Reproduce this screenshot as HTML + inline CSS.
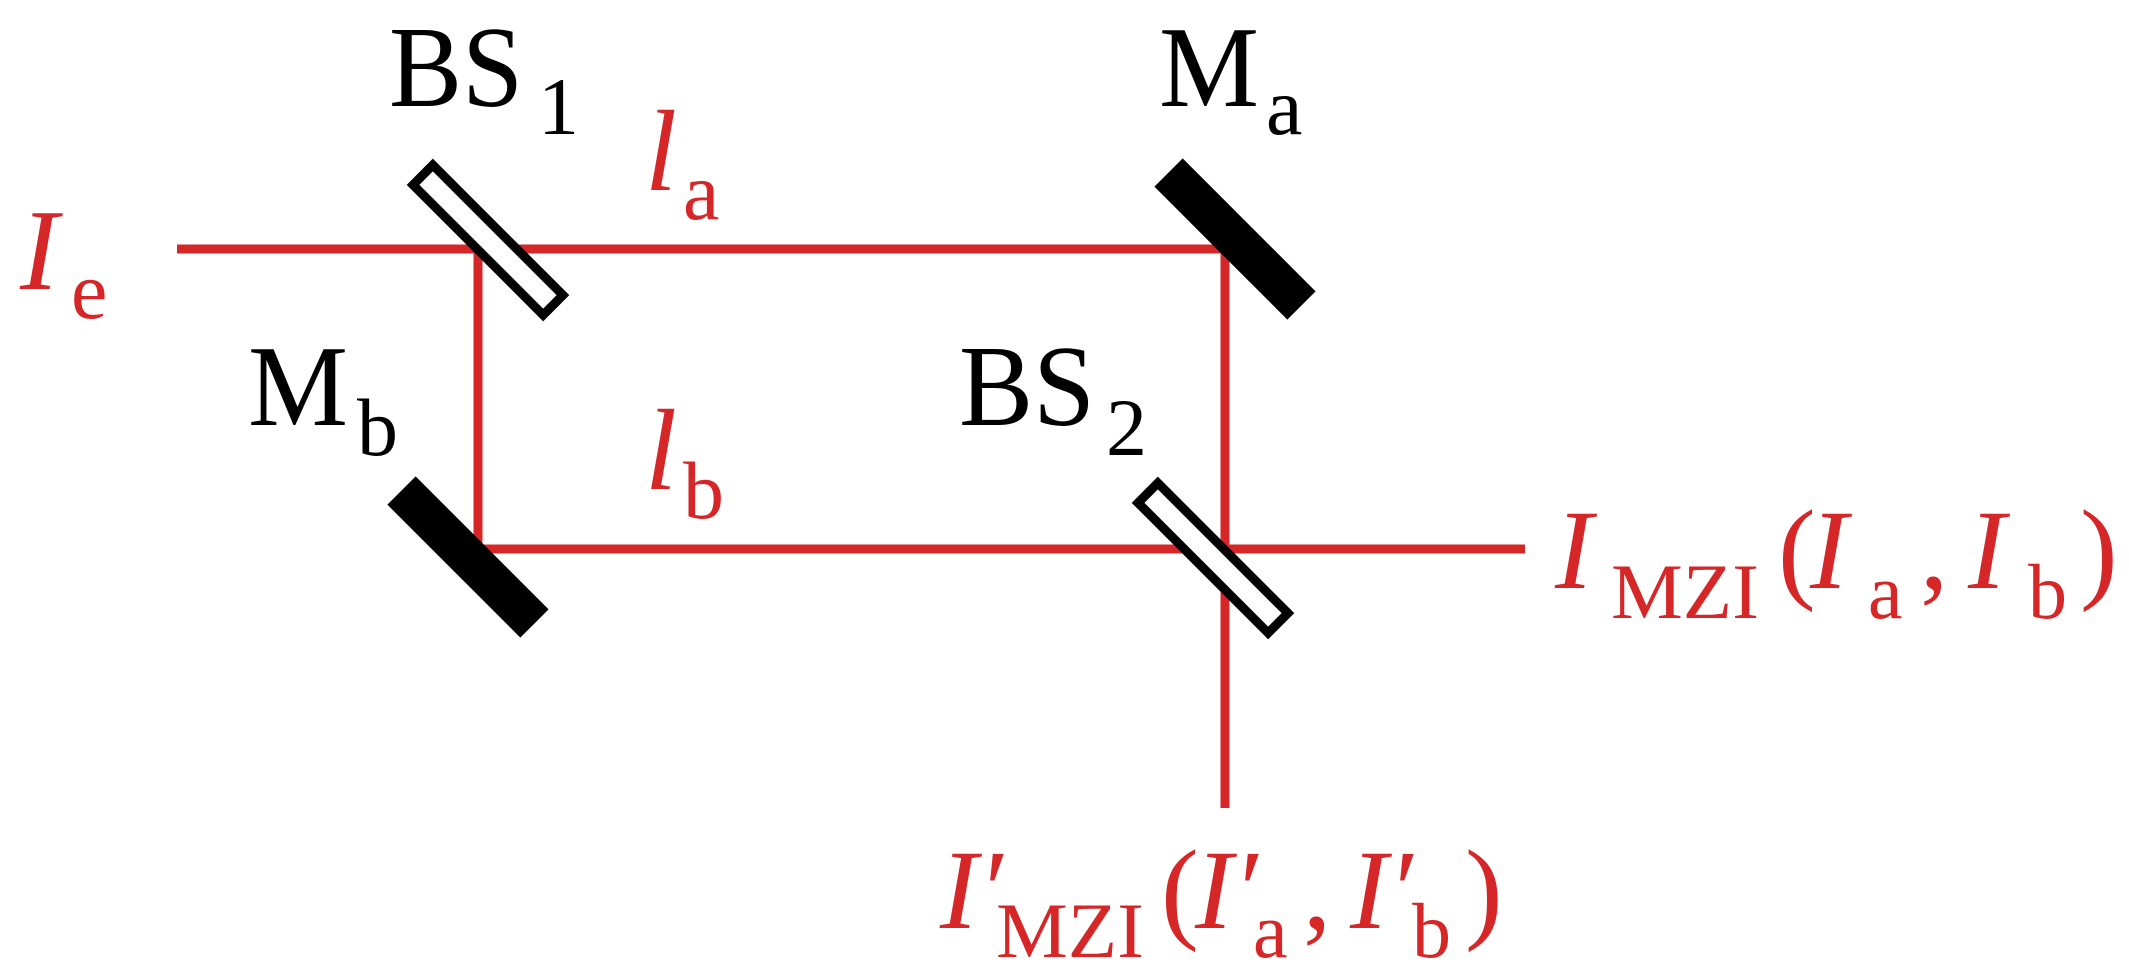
<!DOCTYPE html>
<html><head><meta charset="utf-8"><style>
html,body{margin:0;padding:0;background:#fff;}
svg{display:block;}
text{font-family:"Liberation Serif",serif;}
.r{fill:#d62728;}
.k{fill:#000;}
.i{font-style:italic;}
</style></head><body>
<svg width="2129" height="976" viewBox="0 0 2129 976" xmlns="http://www.w3.org/2000/svg">
<g stroke="#d62728" stroke-width="9" fill="none">
<line x1="177" y1="249" x2="1229" y2="249"/>
<line x1="478" y1="245" x2="478" y2="553"/>
<line x1="1225" y1="245" x2="1225" y2="808"/>
<line x1="474" y1="549" x2="1525" y2="549"/>
</g>
<rect x="-94" y="-20" width="188" height="40" transform="translate(1235,239) rotate(45)" fill="#000"/>
<rect x="-94" y="-20" width="188" height="40" transform="translate(468,557) rotate(45)" fill="#000"/>
<rect x="-92" y="-14" width="184" height="28" transform="translate(488,240) rotate(45)" fill="#fff" stroke="#000" stroke-width="9"/>
<rect x="-92" y="-14" width="184" height="28" transform="translate(1213,558) rotate(45)" fill="#fff" stroke="#000" stroke-width="9"/>

<text class="k" x="389" y="106" font-size="115" textLength="134" lengthAdjust="spacingAndGlyphs">BS</text>
<text class="k" x="538" y="134" font-size="82">1</text>
<text class="k" x="1159" y="106" font-size="115" textLength="100" lengthAdjust="spacingAndGlyphs">M</text>
<text class="k" x="1266" y="134" font-size="82">a</text>
<text class="k" x="248" y="425" font-size="115" textLength="100" lengthAdjust="spacingAndGlyphs">M</text>
<text class="k" x="357" y="455" font-size="82">b</text>
<text class="k" x="959" y="425" font-size="115" textLength="136" lengthAdjust="spacingAndGlyphs">BS</text>
<text class="k" x="1106" y="455" font-size="82">2</text>

<text class="r i" x="645" y="190" font-size="115">l</text>
<text class="r" x="683" y="219" font-size="82">a</text>
<text class="r i" x="645" y="489" font-size="115">l</text>
<text class="r" x="683" y="518" font-size="82">b</text>
<text class="r i" x="20" y="289" font-size="115">I</text>
<text class="r" x="71" y="318" font-size="82">e</text>

<text class="r i" x="1555" y="588" font-size="113">I</text>
<text class="r" x="1611" y="618" font-size="78" textLength="148" lengthAdjust="spacingAndGlyphs">MZI</text>
<text class="r" x="1778" y="588" font-size="113">(</text>
<text class="r i" x="1810" y="588" font-size="113">I</text>
<text class="r" x="1868" y="618" font-size="78">a</text>
<text class="r" x="1920" y="588" font-size="113">,</text>
<text class="r i" x="1968" y="588" font-size="113">I</text>
<text class="r" x="2028" y="618" font-size="78">b</text>
<text class="r" x="2080" y="588" font-size="113">)</text>

<text class="r i" x="940" y="928" font-size="113">I′</text>
<text class="r" x="996" y="957" font-size="78" textLength="148" lengthAdjust="spacingAndGlyphs">MZI</text>
<text class="r" x="1161" y="928" font-size="113">(</text>
<text class="r i" x="1195" y="928" font-size="113">I′</text>
<text class="r" x="1253" y="957" font-size="78">a</text>
<text class="r" x="1303" y="928" font-size="113">,</text>
<text class="r i" x="1350" y="928" font-size="113">I′</text>
<text class="r" x="1412" y="957" font-size="78">b</text>
<text class="r" x="1465" y="928" font-size="113">)</text>
</svg>
</body></html>
